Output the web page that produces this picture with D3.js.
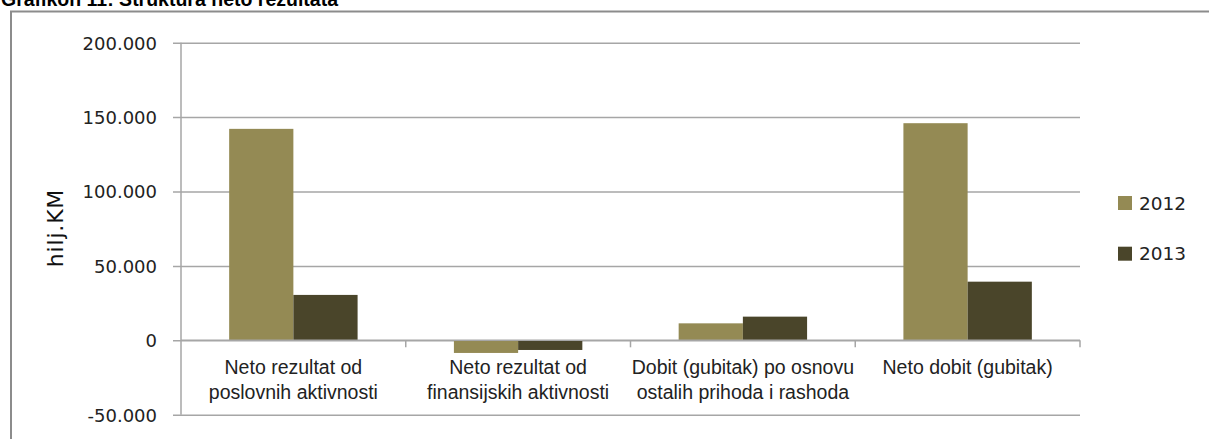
<!DOCTYPE html>
<html>
<head>
<meta charset="utf-8">
<script src="https://cdn.jsdelivr.net/npm/d3@7"></script>
<style>
  html, body { margin: 0; padding: 0; background: #fff; }
  svg { display: block; }
</style>
</head>
<body>
<svg id="chart" width="1209" height="439"></svg>
<script>
// ---- data ----
const categories = [
  ["Neto rezultat od", "poslovnih aktivnosti"],
  ["Neto rezultat od", "finansijskih aktivnosti"],
  ["Dobit (gubitak) po osnovu", "ostalih prihoda i rashoda"],
  ["Neto dobit (gubitak)"]
];
const seriesNames = ["2012", "2013"];
const values2012 = [142100, -8500, 11400, 145900];
const values2013 = [30500, -6500, 15900, 39400];
const yTicks = [-50000, 0, 50000, 100000, 150000, 200000];
const yTickLabels = ["-50.000", "0", "50.000", "100.000", "150.000", "200.000"];
const colors = ["#948A54", "#4A452A"];
const titleText = "Grafikon 11: Struktura neto rezultata";
const yAxisTitle = "hilj.KM";

// ---- layout ----
const svg = d3.select("#chart");
const plot = { left: 181, right: 1080, top: 42.7, bottom: 414.7 };
const catKeys = categories.map((c, i) => "c" + i);

const x0 = d3.scaleBand().domain(catKeys).range([plot.left, plot.right]).paddingInner(0).paddingOuter(0);
const x1 = d3.scaleBand().domain(seriesNames).range([0, x0.bandwidth()]).paddingInner(0).paddingOuter(0.75);
const y = d3.scaleLinear().domain([-50000, 200000]).range([plot.bottom, plot.top]);

const rows = catKeys.map((k, i) => ({ key: k, vals: [values2012[i], values2013[i]] }));

// title (cut off at top, as in the reference)
svg.append("text")
  .attr("x", 1).attr("y", 6)
  .attr("font-family", "Liberation Sans, Arial, sans-serif")
  .attr("font-weight", "bold")
  .attr("font-size", 19.5)
  .attr("fill", "#000")
  .text(titleText);

// outer frame
svg.append("rect")
  .attr("x", 11).attr("y", 11.5)
  .attr("width", 1230).attr("height", 460)
  .attr("fill", "none")
  .attr("stroke", "#8c8c8c")
  .attr("stroke-width", 2);

// gridlines via axis
const yAxis = d3.axisLeft(y)
  .tickValues(yTicks)
  .tickSize(-(plot.right - plot.left))
  .tickPadding(0)
  .tickFormat(d => yTickLabels[yTicks.indexOf(d)]);

const gy = svg.append("g").attr("transform", `translate(${plot.left},0)`).call(yAxis);
gy.select(".domain").remove();
gy.selectAll(".tick line")
  .attr("x1", -8)
  .attr("stroke", "#A6A6A6")
  .attr("stroke-width", 1.5);
gy.selectAll(".tick text")
  .attr("x", -24)
  .attr("dy", "0.36em")
  .attr("font-family", "DejaVu Sans, sans-serif")
  .attr("font-size", 18)
  .attr("fill", "#222");

// y axis line
svg.append("line")
  .attr("x1", plot.left).attr("x2", plot.left)
  .attr("y1", plot.top).attr("y2", plot.bottom)
  .attr("stroke", "#A6A6A6").attr("stroke-width", 1.5);

// bars
const groups = svg.append("g").selectAll("g").data(rows).join("g")
  .attr("transform", d => `translate(${x0(d.key)},0)`);
groups.selectAll("rect")
  .data(d => d.vals.map((v, j) => ({ s: seriesNames[j], v, j })))
  .join("rect")
  .attr("x", d => x1(d.s))
  .attr("width", x1.bandwidth())
  .attr("y", d => y(Math.max(0, d.v)))
  .attr("height", d => Math.abs(y(d.v) - y(0)))
  .attr("fill", d => colors[d.j]);

// category axis at zero
const xAxis = d3.axisBottom(x0).tickSize(0).tickFormat("");
const gx = svg.append("g").attr("transform", `translate(0,${y(0)})`).call(xAxis);
gx.select(".domain").attr("stroke", "#A6A6A6").attr("stroke-width", 1.5).attr("d", `M${plot.left},0H${plot.right}`);
const boundaries = catKeys.map(k => x0(k) + x0.bandwidth());
gx.selectAll(".bt").data(boundaries).join("line")
  .attr("class", "bt")
  .attr("x1", d => d).attr("x2", d => d)
  .attr("y1", 0).attr("y2", 7)
  .attr("stroke", "#A6A6A6").attr("stroke-width", 1.5);

// category labels
const labelG = svg.append("g");
rows.forEach((r, i) => {
  const cx = x0(r.key) + x0.bandwidth() / 2;
  const t = labelG.append("text")
    .attr("x", cx).attr("y", 374)
    .attr("text-anchor", "middle")
    .attr("font-family", "Liberation Sans, Arial, sans-serif")
    .attr("font-size", 19.5)
    .attr("fill", "#222");
  categories[i].forEach((line, li) => {
    t.append("tspan").attr("x", cx).attr("y", 374 + li * 24.5).text(line);
  });
});

// y axis title
svg.append("text")
  .attr("transform", "translate(63,228) rotate(-90)")
  .attr("text-anchor", "middle")
  .attr("font-family", "DejaVu Sans, sans-serif")
  .attr("font-size", 22)
  .attr("letter-spacing", 0.8)
  .attr("fill", "#111")
  .text(yAxisTitle);

// legend
const legend = svg.append("g");
seriesNames.forEach((s, i) => {
  const ly = 196 + i * 50.7;
  legend.append("rect")
    .attr("x", 1118).attr("y", ly)
    .attr("width", 14).attr("height", 14)
    .attr("fill", colors[i]);
  legend.append("text")
    .attr("x", 1139).attr("y", ly + 7)
    .attr("dy", "0.36em")
    .attr("font-family", "DejaVu Sans, sans-serif")
    .attr("font-size", 18.5)
    .attr("fill", "#222")
    .text(s);
});
</script>
</body>
</html>
